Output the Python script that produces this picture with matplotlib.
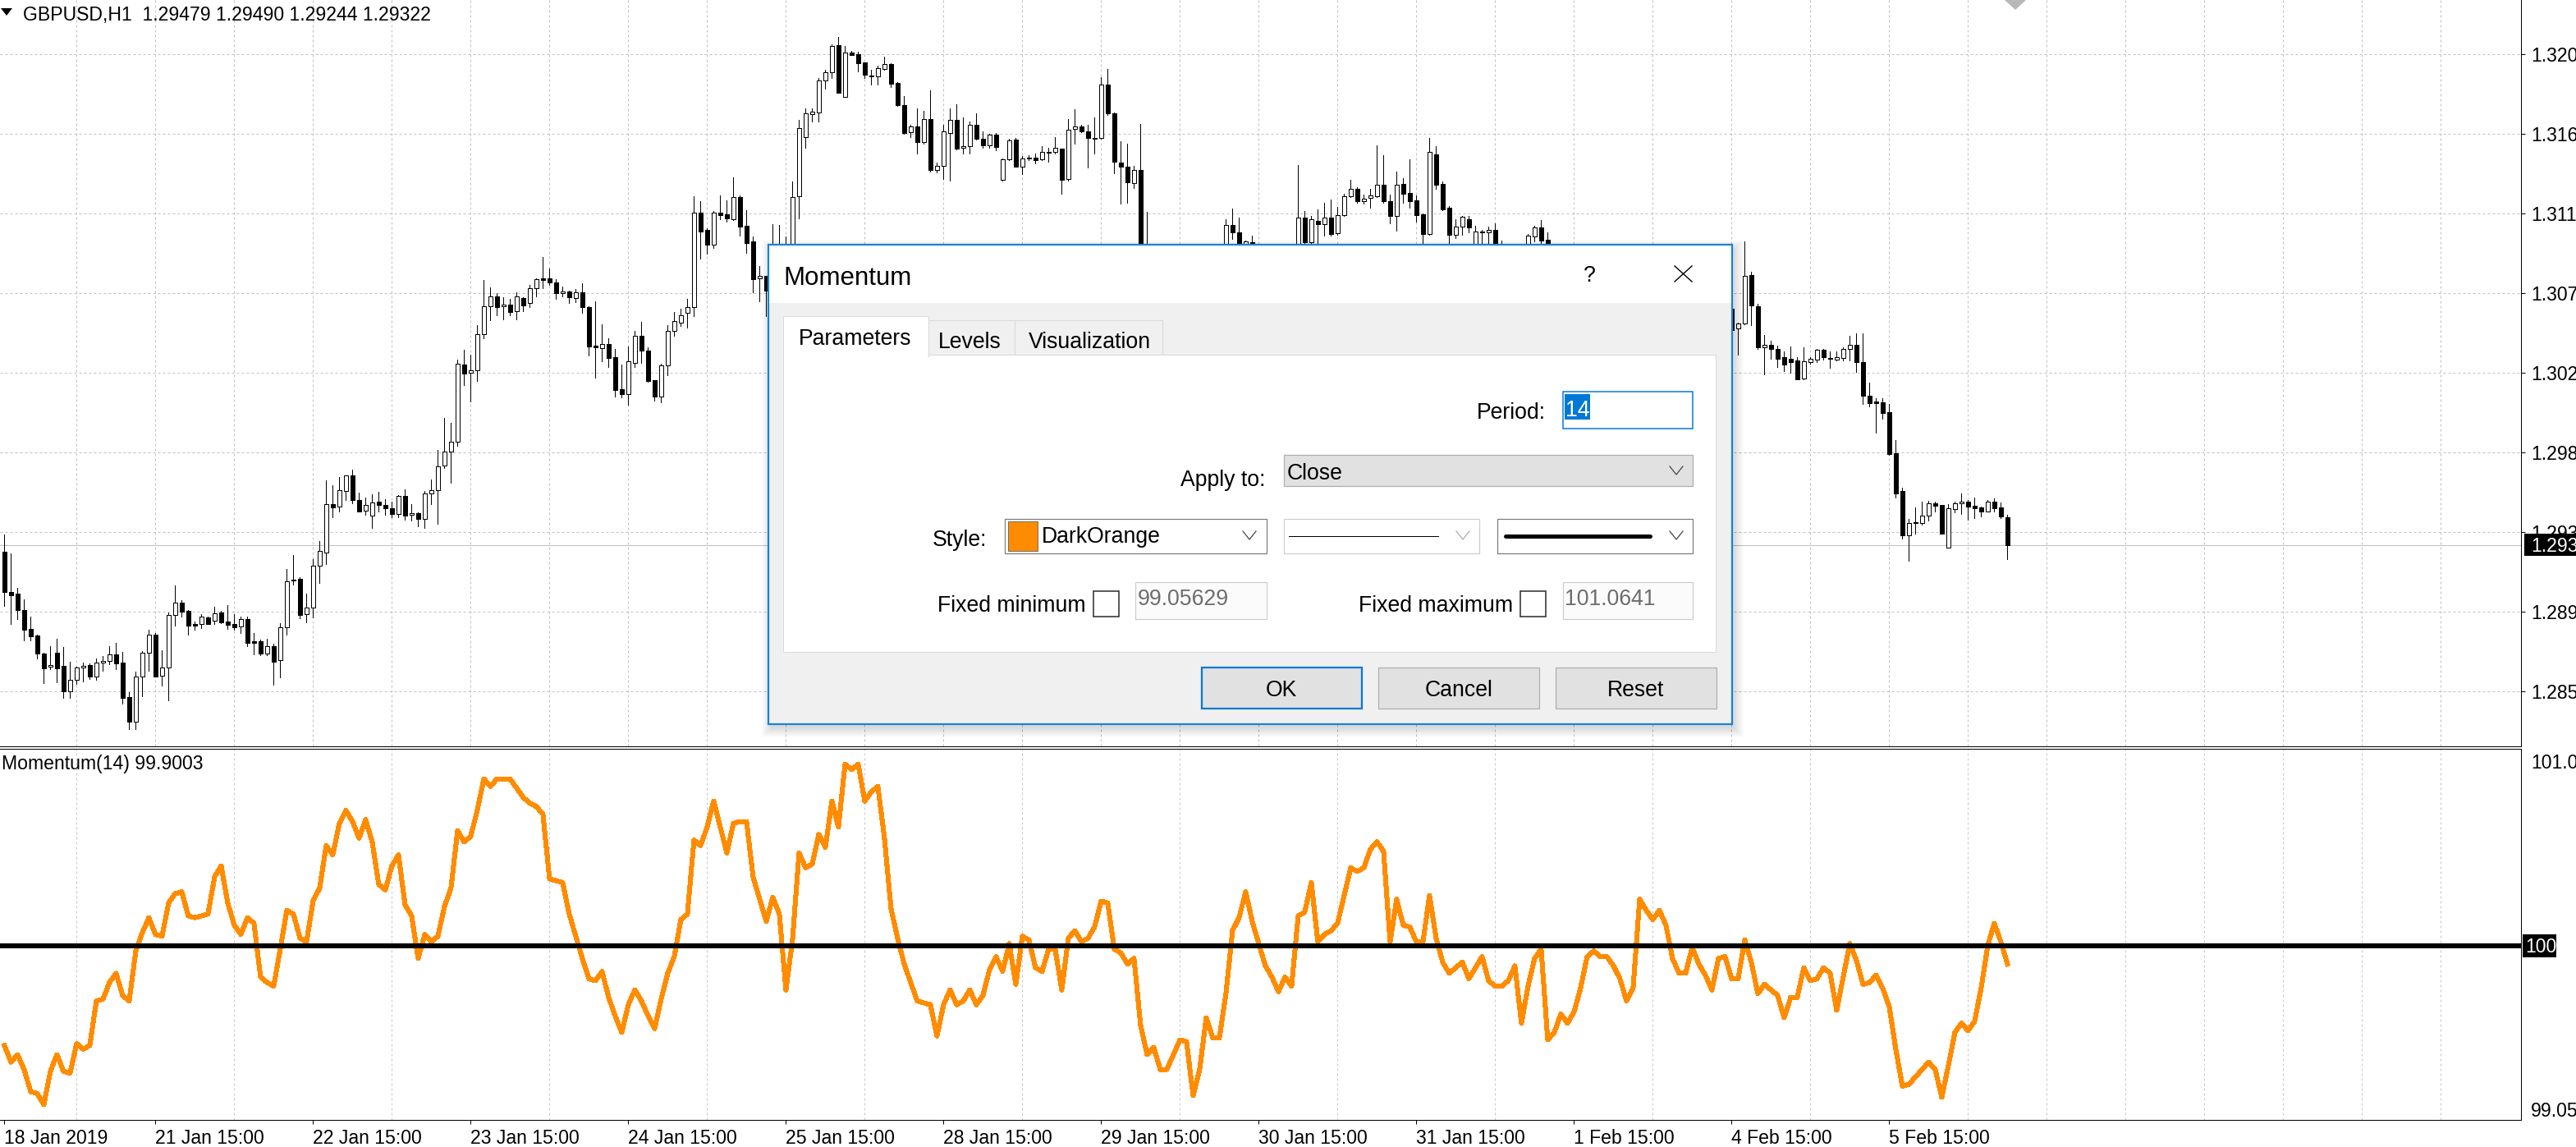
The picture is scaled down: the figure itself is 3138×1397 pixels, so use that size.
import numpy as np
import matplotlib
matplotlib.use("Agg")
import matplotlib.pyplot as plt
from matplotlib.patches import Rectangle, Polygon
from matplotlib.ticker import FormatStrFormatter

plt.rcParams['font.family'] = ['Liberation Sans', 'DejaVu Sans']

# ---------------- data ----------------
symbol = "GBPUSD,H1"

opens = [
    1.29284, 1.29059, 1.29050, 1.28958, 1.28854, 1.28817, 1.28716, 1.28641, 1.28719, 1.28646,
    1.28507, 1.28568, 1.28637, 1.28652, 1.28589, 1.28664, 1.28674, 1.28710, 1.28664, 1.28472,
    1.28337, 1.28586, 1.28719, 1.28820, 1.28594, 1.28640, 1.28930, 1.29001, 1.28955, 1.28882,
    1.28880, 1.28917, 1.28901, 1.28946, 1.28894, 1.28882, 1.28866, 1.28908, 1.28785, 1.28785,
    1.28718, 1.28756, 1.28681, 1.28862, 1.29123, 1.29134, 1.28938, 1.28972, 1.29206, 1.29282,
    1.29550, 1.29536, 1.29623, 1.29710, 1.29573, 1.29513, 1.29486, 1.29563, 1.29545, 1.29526,
    1.29497, 1.29595, 1.29490, 1.29503, 1.29470, 1.29609, 1.29630, 1.29769, 1.29843, 1.29902,
    1.30329, 1.30283, 1.30297, 1.30499, 1.30655, 1.30714, 1.30655, 1.30664, 1.30630, 1.30705,
    1.30673, 1.30760, 1.30811, 1.30811, 1.30792, 1.30728, 1.30739, 1.30705, 1.30734, 1.30653,
    1.30436, 1.30425, 1.30448, 1.30372, 1.30193, 1.30164, 1.30341, 1.30490, 1.30407, 1.30242,
    1.30153, 1.30325, 1.30517, 1.30566, 1.30621, 1.30653, 1.31182, 1.31083, 1.31002, 1.31178,
    1.31170, 1.31144, 1.31267, 1.31106, 1.31019, 1.30811, 1.30826, 1.30745, 1.30946, 1.30874,
    1.30867, 1.31270, 1.31603, 1.31729, 1.31741, 1.31917, 1.31963, 1.32116, 1.31825, 1.32073,
    1.32065, 1.32019, 1.31948, 1.31943, 1.31981, 1.32009, 1.31905, 1.31782, 1.31631, 1.31660,
    1.31573, 1.31703, 1.31420, 1.31443, 1.31626, 1.31698, 1.31542, 1.31550, 1.31669, 1.31591,
    1.31558, 1.31614, 1.31362, 1.31477, 1.31588, 1.31438, 1.31484, 1.31487, 1.31478, 1.31515,
    1.31519, 1.31538, 1.31366, 1.31646, 1.31662, 1.31634, 1.31597, 1.31596, 1.31894, 1.31733,
    1.31458, 1.31435, 1.31347, 1.31417, 1.30953, 1.30766, 1.30640, 1.30760, 1.30780, 1.30857,
    1.30925, 1.30910, 1.30826, 1.30850, 1.30950, 1.30778, 1.30694, 1.31111, 1.31068, 1.30962,
    1.31015, 1.30930, 1.30793, 1.30713, 1.30702, 1.30583, 1.30604, 1.30562, 1.31152, 1.31013,
    1.31132, 1.31117, 1.31152, 1.31065, 1.31168, 1.31270, 1.31313, 1.31244, 1.31264, 1.31270,
    1.31336, 1.31244, 1.31160, 1.31340, 1.31290, 1.31249, 1.31171, 1.31061, 1.31504, 1.31340,
    1.31206, 1.31056, 1.31102, 1.31145, 1.30990, 1.31076, 1.31071, 1.31083, 1.30996, 1.30955,
    1.30919, 1.30917, 1.30967, 1.31045, 1.31099, 1.31030, 1.30433, 1.30539, 1.30611, 1.30525,
    1.30599, 1.30782, 1.30917, 1.30916, 1.30840, 1.30838, 1.30823, 1.30817, 1.30706, 1.30721,
    1.30759, 1.30787, 1.30794, 1.30773, 1.30743, 1.30690, 1.30721, 1.30720, 1.30827, 1.30707,
    1.30614, 1.30503, 1.30615, 1.30643, 1.30531, 1.30559, 1.30831, 1.30657, 1.30428, 1.30439,
    1.30417, 1.30373, 1.30365, 1.30354, 1.30255, 1.30345, 1.30360, 1.30413, 1.30367, 1.30360,
    1.30370, 1.30420, 1.30441, 1.30345, 1.30155, 1.30125, 1.30120, 1.30065, 1.29836, 1.29623,
    1.29378, 1.29447, 1.29444, 1.29488, 1.29555, 1.29547, 1.29307, 1.29523, 1.29555, 1.29567,
    1.29544, 1.29533, 1.29512, 1.29567, 1.29533, 1.29479,
]

highs = [
    1.29382, 1.29276, 1.29083, 1.29019, 1.28923, 1.28820, 1.28719, 1.28758, 1.28797, 1.28752,
    1.28671, 1.28645, 1.28667, 1.28660, 1.28687, 1.28703, 1.28756, 1.28774, 1.28724, 1.28499,
    1.28617, 1.28729, 1.28848, 1.28830, 1.28733, 1.28947, 1.29096, 1.29015, 1.28960, 1.28894,
    1.28935, 1.28924, 1.28976, 1.28953, 1.28987, 1.28935, 1.28924, 1.28921, 1.28831, 1.28794,
    1.28797, 1.28771, 1.28885, 1.29187, 1.29267, 1.29141, 1.29050, 1.29244, 1.29345, 1.29686,
    1.29657, 1.29703, 1.29712, 1.29744, 1.29614, 1.29588, 1.29605, 1.29620, 1.29581, 1.29565,
    1.29603, 1.29636, 1.29549, 1.29505, 1.29626, 1.29691, 1.29852, 1.30031, 1.30005, 1.30357,
    1.30413, 1.30387, 1.30551, 1.30803, 1.30762, 1.30728, 1.30707, 1.30698, 1.30734, 1.30707,
    1.30776, 1.30812, 1.30932, 1.30867, 1.30806, 1.30766, 1.30744, 1.30753, 1.30785, 1.30658,
    1.30684, 1.30555, 1.30477, 1.30416, 1.30331, 1.30433, 1.30519, 1.30569, 1.30427, 1.30245,
    1.30334, 1.30551, 1.30627, 1.30643, 1.30698, 1.31271, 1.31244, 1.31092, 1.31189, 1.31276,
    1.31248, 1.31378, 1.31276, 1.31193, 1.31045, 1.30880, 1.30826, 1.31114, 1.31111, 1.31045,
    1.31356, 1.31698, 1.31764, 1.31764, 1.31932, 1.31978, 1.32119, 1.32162, 1.32111, 1.32085,
    1.32081, 1.32019, 1.31978, 1.32001, 1.32052, 1.32013, 1.31909, 1.31830, 1.31672, 1.31764,
    1.31749, 1.31863, 1.31458, 1.31672, 1.31764, 1.31787, 1.31710, 1.31688, 1.31733, 1.31634,
    1.31619, 1.31626, 1.31481, 1.31591, 1.31596, 1.31496, 1.31499, 1.31509, 1.31550, 1.31542,
    1.31603, 1.31538, 1.31703, 1.31756, 1.31672, 1.31672, 1.31710, 1.31937, 1.31983, 1.31738,
    1.31581, 1.31565, 1.31443, 1.31675, 1.31183, 1.30800, 1.30790, 1.30820, 1.30890, 1.30960,
    1.30970, 1.30940, 1.30880, 1.30980, 1.30970, 1.30800, 1.31145, 1.31203, 1.31152, 1.31025,
    1.31053, 1.30950, 1.30830, 1.30760, 1.30720, 1.30640, 1.30630, 1.31446, 1.31191, 1.31160,
    1.31198, 1.31236, 1.31255, 1.31214, 1.31285, 1.31362, 1.31320, 1.31279, 1.31313, 1.31555,
    1.31499, 1.31282, 1.31408, 1.31374, 1.31478, 1.31275, 1.31175, 1.31596, 1.31550, 1.31356,
    1.31218, 1.31145, 1.31163, 1.31160, 1.31106, 1.31083, 1.31102, 1.31122, 1.31022, 1.30980,
    1.30960, 1.30990, 1.31061, 1.31106, 1.31140, 1.31068, 1.30580, 1.30650, 1.30630, 1.30630,
    1.30810, 1.30950, 1.30960, 1.30930, 1.30870, 1.30860, 1.30850, 1.30830, 1.30750, 1.30790,
    1.30820, 1.30830, 1.30810, 1.30790, 1.30760, 1.30750, 1.30760, 1.30860, 1.30840, 1.30720,
    1.30640, 1.30640, 1.30670, 1.30660, 1.30566, 1.31021, 1.30850, 1.30670, 1.30496, 1.30465,
    1.30436, 1.30405, 1.30432, 1.30373, 1.30428, 1.30373, 1.30420, 1.30417, 1.30405, 1.30405,
    1.30428, 1.30492, 1.30507, 1.30507, 1.30228, 1.30144, 1.30144, 1.30112, 1.29910, 1.29643,
    1.29469, 1.29533, 1.29567, 1.29571, 1.29567, 1.29548, 1.29552, 1.29567, 1.29612, 1.29574,
    1.29586, 1.29536, 1.29572, 1.29583, 1.29560, 1.29490,
]

lows = [
    1.28981, 1.28882, 1.28909, 1.28790, 1.28790, 1.28690, 1.28553, 1.28629, 1.28557, 1.28469,
    1.28469, 1.28548, 1.28560, 1.28576, 1.28571, 1.28620, 1.28658, 1.28629, 1.28438, 1.28296,
    1.28296, 1.28478, 1.28620, 1.28589, 1.28537, 1.28456, 1.28874, 1.28923, 1.28823, 1.28851,
    1.28860, 1.28882, 1.28883, 1.28888, 1.28856, 1.28848, 1.28833, 1.28759, 1.28713, 1.28707,
    1.28706, 1.28544, 1.28585, 1.28823, 1.29103, 1.28912, 1.28892, 1.28920, 1.29111, 1.29218,
    1.29478, 1.29512, 1.29574, 1.29557, 1.29509, 1.29493, 1.29420, 1.29508, 1.29493, 1.29477,
    1.29480, 1.29465, 1.29459, 1.29428, 1.29416, 1.29551, 1.29442, 1.29753, 1.29672, 1.29878,
    1.30218, 1.30126, 1.30240, 1.30477, 1.30578, 1.30607, 1.30584, 1.30606, 1.30584, 1.30630,
    1.30653, 1.30713, 1.30759, 1.30776, 1.30698, 1.30713, 1.30676, 1.30681, 1.30620, 1.30383,
    1.30259, 1.30349, 1.30317, 1.30152, 1.30147, 1.30106, 1.30317, 1.30340, 1.30234, 1.30129,
    1.30120, 1.30273, 1.30490, 1.30548, 1.30537, 1.30601, 1.30922, 1.30950, 1.30982, 1.31143,
    1.31129, 1.31137, 1.31051, 1.30956, 1.30736, 1.30685, 1.30603, 1.30700, 1.30830, 1.30800,
    1.30830, 1.31148, 1.31542, 1.31688, 1.31688, 1.31871, 1.31932, 1.31851, 1.31825, 1.32060,
    1.31970, 1.31932, 1.31894, 1.31894, 1.31978, 1.31882, 1.31775, 1.31619, 1.31603, 1.31509,
    1.31565, 1.31408, 1.31405, 1.31366, 1.31359, 1.31535, 1.31512, 1.31512, 1.31588, 1.31542,
    1.31542, 1.31530, 1.31359, 1.31473, 1.31435, 1.31397, 1.31473, 1.31454, 1.31473, 1.31466,
    1.31512, 1.31285, 1.31359, 1.31565, 1.31631, 1.31432, 1.31512, 1.31591, 1.31726, 1.31402,
    1.31229, 1.31236, 1.31316, 1.30900, 1.30700, 1.30600, 1.30610, 1.30720, 1.30760, 1.30830,
    1.30880, 1.30790, 1.30800, 1.30830, 1.30740, 1.30660, 1.30650, 1.31033, 1.30930, 1.30940,
    1.30900, 1.30760, 1.30680, 1.30670, 1.30550, 1.30560, 1.30520, 1.30530, 1.30980, 1.30990,
    1.30990, 1.31053, 1.31053, 1.31056, 1.31160, 1.31267, 1.31236, 1.31229, 1.31206, 1.31267,
    1.31236, 1.31122, 1.31080, 1.31236, 1.31206, 1.31129, 1.30990, 1.31056, 1.31313, 1.31194,
    1.30990, 1.31038, 1.31056, 1.31071, 1.30950, 1.30980, 1.30990, 1.30950, 1.30900, 1.30880,
    1.30890, 1.30900, 1.30940, 1.31020, 1.30980, 1.30400, 1.30400, 1.30510, 1.30490, 1.30500,
    1.30580, 1.30760, 1.30880, 1.30810, 1.30800, 1.30790, 1.30780, 1.30670, 1.30680, 1.30700,
    1.30740, 1.30760, 1.30750, 1.30720, 1.30660, 1.30670, 1.30700, 1.30710, 1.30680, 1.30590,
    1.30480, 1.30490, 1.30600, 1.30500, 1.30386, 1.30555, 1.30550, 1.30420, 1.30278, 1.30365,
    1.30318, 1.30294, 1.30286, 1.30247, 1.30250, 1.30334, 1.30345, 1.30357, 1.30313, 1.30354,
    1.30354, 1.30354, 1.30291, 1.30112, 1.30097, 1.29950, 1.30029, 1.29828, 1.29586, 1.29359,
    1.29233, 1.29386, 1.29438, 1.29460, 1.29512, 1.29384, 1.29307, 1.29507, 1.29496, 1.29465,
    1.29473, 1.29481, 1.29509, 1.29512, 1.29473, 1.29244,
]

closes = [
    1.29062, 1.29044, 1.28958, 1.28851, 1.28814, 1.28718, 1.28635, 1.28651, 1.28635, 1.28507,
    1.28568, 1.28637, 1.28646, 1.28589, 1.28664, 1.28674, 1.28710, 1.28663, 1.28470, 1.28337,
    1.28586, 1.28719, 1.28820, 1.28589, 1.28637, 1.28930, 1.29001, 1.28952, 1.28874, 1.28874,
    1.28921, 1.28883, 1.28940, 1.28892, 1.28878, 1.28865, 1.28908, 1.28778, 1.28778, 1.28718,
    1.28756, 1.28672, 1.28862, 1.29119, 1.29131, 1.28934, 1.28972, 1.29206, 1.29288, 1.29550,
    1.29534, 1.29628, 1.29710, 1.29573, 1.29512, 1.29545, 1.29559, 1.29545, 1.29526, 1.29497,
    1.29595, 1.29488, 1.29503, 1.29470, 1.29613, 1.29630, 1.29763, 1.29847, 1.29902, 1.30334,
    1.30282, 1.30297, 1.30499, 1.30655, 1.30710, 1.30653, 1.30664, 1.30626, 1.30710, 1.30662,
    1.30760, 1.30806, 1.30805, 1.30791, 1.30731, 1.30739, 1.30708, 1.30734, 1.30653, 1.30433,
    1.30429, 1.30448, 1.30369, 1.30188, 1.30167, 1.30349, 1.30490, 1.30410, 1.30239, 1.30153,
    1.30325, 1.30517, 1.30572, 1.30606, 1.30652, 1.31182, 1.31075, 1.31000, 1.31182, 1.31167,
    1.31146, 1.31265, 1.31103, 1.31011, 1.30809, 1.30826, 1.30745, 1.30946, 1.30874, 1.30867,
    1.31267, 1.31652, 1.31733, 1.31744, 1.31917, 1.31963, 1.32111, 1.31851, 1.32073, 1.32062,
    1.32016, 1.31952, 1.31943, 1.31986, 1.32009, 1.31902, 1.31782, 1.31626, 1.31660, 1.31573,
    1.31703, 1.31420, 1.31443, 1.31634, 1.31698, 1.31539, 1.31550, 1.31669, 1.31591, 1.31558,
    1.31614, 1.31545, 1.31477, 1.31585, 1.31438, 1.31484, 1.31487, 1.31473, 1.31519, 1.31519,
    1.31542, 1.31362, 1.31642, 1.31662, 1.31634, 1.31596, 1.31594, 1.31894, 1.31733, 1.31463,
    1.31435, 1.31351, 1.31417, 1.30953, 1.30766, 1.30640, 1.30760, 1.30780, 1.30857, 1.30925,
    1.30910, 1.30826, 1.30850, 1.30950, 1.30778, 1.30694, 1.31110, 1.31071, 1.30962, 1.31019,
    1.30930, 1.30793, 1.30713, 1.30702, 1.30583, 1.30604, 1.30562, 1.31152, 1.31013, 1.31145,
    1.31117, 1.31152, 1.31061, 1.31168, 1.31270, 1.31313, 1.31244, 1.31259, 1.31275, 1.31336,
    1.31244, 1.31160, 1.31336, 1.31285, 1.31244, 1.31168, 1.31061, 1.31519, 1.31336, 1.31198,
    1.31056, 1.31102, 1.31155, 1.31096, 1.31076, 1.31071, 1.31083, 1.30996, 1.30955, 1.30919,
    1.30917, 1.30967, 1.31053, 1.31099, 1.31022, 1.30433, 1.30539, 1.30611, 1.30525, 1.30599,
    1.30782, 1.30917, 1.30916, 1.30840, 1.30838, 1.30823, 1.30817, 1.30706, 1.30721, 1.30759,
    1.30787, 1.30794, 1.30773, 1.30743, 1.30690, 1.30721, 1.30720, 1.30827, 1.30707, 1.30614,
    1.30503, 1.30615, 1.30643, 1.30524, 1.30559, 1.30826, 1.30661, 1.30428, 1.30439, 1.30420,
    1.30365, 1.30329, 1.30345, 1.30250, 1.30349, 1.30365, 1.30413, 1.30373, 1.30362, 1.30373,
    1.30420, 1.30441, 1.30346, 1.30155, 1.30117, 1.30117, 1.30060, 1.29831, 1.29612, 1.29378,
    1.29444, 1.29452, 1.29488, 1.29555, 1.29544, 1.29386, 1.29528, 1.29555, 1.29567, 1.29539,
    1.29528, 1.29512, 1.29567, 1.29528, 1.29481, 1.29322,
]

momentum = [
    99.46, 99.37, 99.41, 99.33, 99.21, 99.20, 99.14, 99.32, 99.41, 99.32,
    99.31, 99.47, 99.44, 99.46, 99.70, 99.71, 99.80, 99.85, 99.73, 99.70,
    99.97, 100.07, 100.15, 100.06, 100.05, 100.23, 100.28, 100.29, 100.16, 100.15,
    100.16, 100.17, 100.37, 100.43, 100.23, 100.11, 100.06, 100.15, 100.12, 99.83,
    99.80, 99.78, 99.98, 100.19, 100.17, 100.04, 100.02, 100.24, 100.31, 100.54,
    100.49, 100.66, 100.73, 100.67, 100.58, 100.68, 100.56, 100.33, 100.30, 100.43,
    100.49, 100.22, 100.16, 99.93, 100.06, 100.02, 100.05, 100.21, 100.31, 100.62,
    100.56, 100.59, 100.73, 100.90, 100.86, 100.90, 100.90, 100.90, 100.85, 100.80,
    100.77, 100.75, 100.71, 100.36, 100.35, 100.34, 100.17, 100.05, 99.93, 99.82,
    99.81, 99.86, 99.72, 99.62, 99.53, 99.68, 99.76, 99.70, 99.62, 99.55,
    99.71, 99.85, 99.94, 100.14, 100.17, 100.57, 100.54, 100.64, 100.78, 100.64,
    100.50, 100.66, 100.67, 100.67, 100.37, 100.25, 100.13, 100.26, 100.17, 99.76,
    100.03, 100.50, 100.42, 100.44, 100.60, 100.53, 100.78, 100.64, 100.98, 100.95,
    100.98, 100.78, 100.83, 100.86, 100.58, 100.20, 100.04, 99.90, 99.80, 99.70,
    99.69, 99.68, 99.51, 99.68, 99.76, 99.68, 99.70, 99.76, 99.68, 99.73,
    99.87, 99.94, 99.86, 100.01, 99.79, 100.05, 100.03, 99.88, 99.86, 99.98,
    99.98, 99.76, 100.04, 100.08, 100.02, 100.04, 100.10, 100.24, 100.23, 99.98,
    99.96, 99.90, 99.93, 99.57, 99.41, 99.45, 99.33, 99.33, 99.41, 99.49,
    99.48, 99.19, 99.33, 99.61, 99.50, 99.50, 99.74, 100.08, 100.15, 100.29,
    100.13, 100.01, 99.89, 99.83, 99.75, 99.83, 99.78, 100.16, 100.18, 100.34,
    100.02, 100.06, 100.08, 100.12, 100.27, 100.42, 100.40, 100.42, 100.52, 100.56,
    100.51, 100.02, 100.25, 100.11, 100.10, 100.02, 100.02, 100.27, 100.04, 99.91,
    99.85, 99.88, 99.91, 99.82, 99.88, 99.94, 99.81, 99.78, 99.78, 99.81,
    99.89, 99.58, 99.78, 99.93, 99.98, 99.49, 99.53, 99.63, 99.58, 99.64,
    99.77, 99.94, 99.97, 99.94, 99.94, 99.89, 99.82, 99.70, 99.77, 100.25,
    100.19, 100.14, 100.19, 100.11, 99.93, 99.85, 99.85, 99.99, 99.90, 99.84,
    99.76, 99.93, 99.94, 99.82, 99.82, 100.03, 99.91, 99.74, 99.79, 99.76,
    99.73, 99.61, 99.72, 99.72, 99.88, 99.81, 99.82, 99.88, 99.85, 99.65,
    99.83, 100.01, 99.92, 99.79, 99.80, 99.84, 99.77, 99.67, 99.44, 99.24,
    99.25, 99.29, 99.33, 99.37, 99.33, 99.18, 99.35, 99.53, 99.58, 99.54,
    99.59, 99.77, 100.00, 100.12, 100.02, 99.9003,
]

momentum_period = 14
level_value = 100
fixed_min = 99.05629
fixed_max = 101.0641
price_ticks = [1.32065, 1.31620, 1.31175, 1.30730, 1.30285, 1.29840, 1.29395, 1.28950, 1.28505]
date_tick_bars = [0, 23, 47, 71, 95, 119, 143, 167, 191, 215, 239, 263, 287]
date_tick_labels = ["18 Jan 2019", "21 Jan 15:00", "22 Jan 15:00", "23 Jan 15:00",
                    "24 Jan 15:00", "25 Jan 15:00", "28 Jan 15:00", "29 Jan 15:00",
                    "30 Jan 15:00", "31 Jan 15:00", "1 Feb 15:00", "4 Feb 15:00",
                    "5 Feb 15:00"]
style_colour_name = "DarkOrange"

# ---------------- layout ----------------
W, H = 3138, 1397
DPI = 100
PT = 72.0 / DPI          # points per pixel
FS = 16.6                # chart text
FS_DLG = 19.2            # dialog text
FS_TITLE = 22.5          # dialog caption

AX_RIGHT = 3071
MAIN_BOTTOM = 909
IND_TOP, IND_BOTTOM = 911.7, 1364.3
BAR_PX = 8.0
FIRST_BAR_PX = 5.4
PRICE_TOP = 1.32368
PX_PER_PRICE = 21798.0

fig = plt.figure(figsize=(W / DPI, H / DPI), dpi=DPI, facecolor='white')
ax = fig.add_axes([0, 1 - MAIN_BOTTOM / H, AX_RIGHT / W, MAIN_BOTTOM / H])
ax2 = fig.add_axes([0, 1 - IND_BOTTOM / H, AX_RIGHT / W, (IND_BOTTOM - IND_TOP) / H])

xmin = -FIRST_BAR_PX / BAR_PX
xmax = xmin + AX_RIGHT / BAR_PX
grid_bars = np.arange(11, xmax - 1, 12)

for a in (ax, ax2):
    a.set_xlim(xmin, xmax)
    a.set_facecolor('white')
    a.set_axisbelow(True)
    a.spines['left'].set_visible(False)
    for s in ('right', 'bottom', 'top'):
        a.spines[s].set_color('black')
        a.spines[s].set_linewidth(1 * PT)
ax.spines['top'].set_visible(False)

ax.set_ylim(PRICE_TOP - MAIN_BOTTOM / PX_PER_PRICE, PRICE_TOP)
ax2.set_ylim(fixed_min, fixed_max)

grid_kw = dict(color='#c0c0c0', linewidth=1 * PT, linestyle=(0, (3, 3)))

# main panel axes / grid
ax.set_xticks([])
ax.set_xticks(grid_bars, minor=True)
ax.grid(True, which='minor', axis='x', **grid_kw)
ax.tick_params(axis='x', which='both', length=0, labelbottom=False)
ax.yaxis.tick_right()
ax.set_yticks(price_ticks)
ax.yaxis.set_major_formatter(FormatStrFormatter('%.5f'))
ax.grid(True, which='major', axis='y', **grid_kw)
ax.tick_params(axis='y', which='major', direction='out', length=5 * PT, width=1 * PT,
               pad=7 * PT, labelsize=FS, colors='black')

# candles
o = np.array(opens); hi = np.array(highs); lo = np.array(lows); c = np.array(closes)
idx = np.arange(len(c))
bull = c >= o
ax.vlines(idx, lo, hi, color='black', linewidth=1 * PT, zorder=2, antialiased=False)
ax.bar(idx, np.maximum(np.abs(c - o), 1e-6), bottom=np.minimum(o, c), width=0.6,
       color=np.where(bull, 'white', 'black'), edgecolor='black', linewidth=1 * PT,
       zorder=3, antialiased=False)
ax.axhline(c[-1], color='#c0c0c0', linewidth=1 * PT, zorder=1.5)

# indicator panel
m = np.array(momentum)
ax2.set_xticks(date_tick_bars)
ax2.set_xticklabels(date_tick_labels)
ax2.set_xticks(grid_bars, minor=True)
ax2.grid(True, which='minor', axis='x', color='#c8c8c8', linewidth=1 * PT, linestyle=(0, (3, 3)))
ax2.tick_params(axis='x', which='major', direction='out', length=5 * PT, width=1 * PT,
                pad=6 * PT, labelsize=FS, colors='black')
ax2.tick_params(axis='x', which='minor', length=0)
for t in ax2.get_xticklabels():
    t.set_horizontalalignment('left')
ax2.set_yticks([])
ax2.plot(idx, m, color='#ff8c00', linewidth=5 * PT, zorder=3, solid_joinstyle='round',
         antialiased=False)
ax2.axhline(level_value, color='black', linewidth=6 * PT, zorder=4, antialiased=False)

# ---------------- overlay (texts, labels, dialog) in pixel coords ----------------
ov = fig.add_axes([0, 0, 1, 1])
ov.set_zorder(10)
ov.set_xlim(0, W)
ov.set_ylim(H, 0)
ov.axis('off')
ov.patch.set_visible(False)


def rect(x0, y0, x1, y1, fc, ec='none', lw=1.0, z=20, **kw):
    ov.add_patch(Rectangle((x0, y0), x1 - x0, y1 - y0, facecolor=fc, edgecolor=ec,
                           linewidth=lw * PT, zorder=z, **kw))


def txt(x, y, s, size=FS_DLG, ha='left', color='black', z=25):
    ov.text(x, y, s, fontsize=size, ha=ha, va='baseline', color=color, zorder=z)


def chevron(xc, yc, color='#3c3c3c'):
    ov.plot([xc - 8, xc, xc + 8], [yc - 5, yc + 5, yc - 5], color=color,
            linewidth=1.2 * PT, zorder=26)


def py_of(axes, value):
    return H - axes.transData.transform((0, value))[1]


# chart header
ov.add_patch(Polygon([(1, 10), (15, 10), (8, 19)], closed=True, facecolor='black',
                     edgecolor='none', zorder=15))
header = "%s  %.5f %.5f %.5f %.5f" % (symbol, opens[-1], highs[-1], lows[-1], closes[-1])
txt(28, 25.5, header, size=FS, z=15)
ov.add_patch(Polygon([(2442, 0), (2468, 0), (2455, 12)], closed=True,
                     facecolor='#b8b8b8', edgecolor='none', zorder=15))

# indicator header and scale labels
txt(2, 937.5, "Momentum(%d) %.4f" % (momentum_period, momentum[-1]), size=FS, z=15)
txt(3083, 936.5, "%.4f" % fixed_max, size=FS, z=15)
txt(3083, 1360.5, "%.4f" % fixed_min, size=FS, z=15)
y100 = py_of(ax2, level_value)
rect(3073, y100 - 14, 3114, y100 + 14, 'black', z=15)
txt(3076, y100 + 8.3, "%d" % level_value, size=FS, color='white', z=16)

# current price label
yb = py_of(ax, closes[-1])
rect(3075, yb - 13.5, W + 5, yb + 13.5, 'black', z=15)
txt(3083, yb + 8.3, "%.5f" % closes[-1], size=FS, color='white', z=16)

# ---------------- dialog ----------------
DX0, DY0, DX1, DY1 = 936, 298, 2110, 882
for k in range(1, 13):
    rect(DX0 - k + 4, DY0 - k + 6, DX1 + k + 2, DY1 + k + 4, 'black', z=18, alpha=0.012)
rect(DX0, DY0, DX1, DY1, '#f0f0f0', z=19)
rect(DX0, DY0, DX1, 368.5, 'white', z=19.5)
rect(DX0, DY0, DX1, DY1, 'none', ec='#1883d7', lw=2.2, z=27)

txt(954, 346.6, "Momentum", size=FS_TITLE)
txt(1936, 342.8, "?", size=FS_DLG, ha='center')
ov.plot([2040, 2061], [324, 343], color='black', linewidth=1.4 * PT, zorder=25)
ov.plot([2040, 2061], [343, 324], color='black', linewidth=1.4 * PT, zorder=25)

# tab panel and tabs
rect(954, 432, 2090, 794, 'white', ec='#d9d9d9', lw=1, z=20)
rect(1131, 390, 1236, 432, '#f0f0f0', ec='#d9d9d9', lw=1, z=20)
rect(1236, 390, 1416, 432, '#f0f0f0', ec='#d9d9d9', lw=1, z=20)
rect(954, 385, 1131, 433.5, 'white', ec='#d9d9d9', lw=1, z=21)
rect(955, 431, 1130, 435, 'white', z=22)
txt(973, 420, "Parameters")
txt(1142.5, 424.5, "Levels")
txt(1252.5, 424.5, "Visualization")

# Period
txt(1882.5, 510, "Period:", ha='right')
rect(1904, 476.5, 2062, 522, 'white', ec='#0078d7', lw=1.5, z=21)
rect(1906, 479.5, 1936.5, 510.5, '#0078d7', z=22)
txt(1907, 507, "%d" % momentum_period, color='white', z=23)

# Apply to
txt(1541.7, 592, "Apply to:", ha='right')
rect(1564, 553.5, 2062, 591.5, '#e1e1e1', ec='#adadad', lw=1.2, z=21)
txt(1567.5, 584, "Close")
chevron(2042, 573)

# Style
txt(1201.7, 665, "Style:", ha='right')
rect(1224, 631.5, 1542.5, 674, 'white', ec='#7a7a7a', lw=1.2, z=21)
rect(1228, 634.5, 1264, 671, '#ff8c00', ec='#707070', lw=1, z=22)
txt(1269, 661, style_colour_name)
chevron(1522, 652)
rect(1564, 631.5, 1802, 674, 'white', ec='#cccccc', lw=1.2, z=21)
ov.plot([1570, 1752], [652.8, 652.8], color='black', linewidth=1 * PT, zorder=23)
chevron(1782, 652, color='#a8a8a8')
rect(1824, 631.5, 2062, 674, 'white', ec='#7a7a7a', lw=1.2, z=21)
ov.plot([1834, 2010], [652.8, 652.8], color='black', linewidth=5 * PT, zorder=23,
        solid_capstyle='round')
chevron(2042, 652)

# Fixed minimum / maximum
txt(1323, 745, "Fixed minimum", ha='right')
rect(1332, 720, 1362.5, 750.5, 'white', ec='#333333', lw=1.6, z=21)
rect(1383, 708.5, 1542.5, 754, '#fbfbfb', ec='#cccccc', lw=1.2, z=21)
txt(1385.5, 737, "%.5f" % fixed_min, color='#6d6d6d')
txt(1843, 745, "Fixed maximum", ha='right')
rect(1852, 720, 1882.5, 750.5, 'white', ec='#333333', lw=1.6, z=21)
rect(1904, 708.5, 2062, 754, '#fbfbfb', ec='#cccccc', lw=1.2, z=21)
txt(1906.5, 737, "%.4f" % fixed_max, color='#6d6d6d')

# buttons
rect(1463.5, 813, 1658.5, 863, '#e1e1e1', ec='#0078d7', lw=2.2, z=21)
txt(1561, 848, "OK", ha='center')
rect(1679, 813, 1875, 863, '#e1e1e1', ec='#adadad', lw=1.2, z=21)
txt(1777, 848, "Cancel", ha='center')
rect(1895, 813, 2091, 863, '#e1e1e1', ec='#adadad', lw=1.2, z=21)
txt(1993, 848, "Reset", ha='center')

fig.savefig("out.png", dpi=DPI, facecolor='white')
